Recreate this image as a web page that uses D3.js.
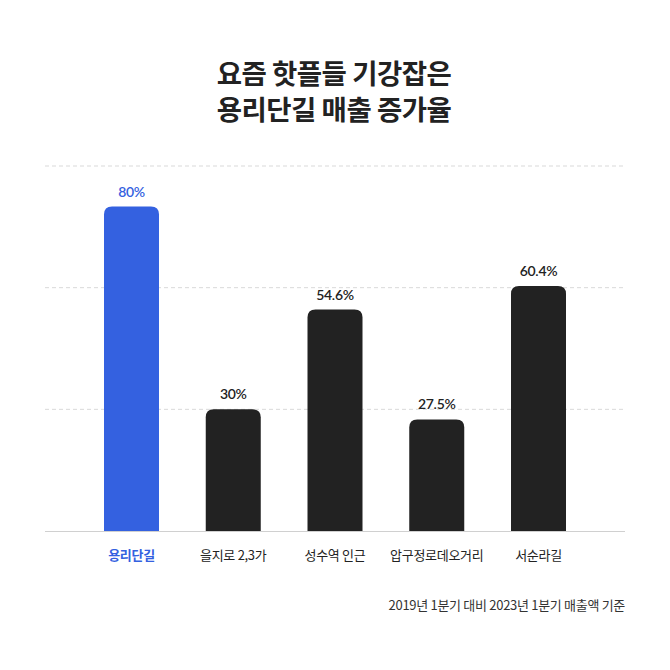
<!DOCTYPE html>
<html><head><meta charset="utf-8">
<script src="https://cdn.jsdelivr.net/npm/d3@7"></script>
<style>html,body{margin:0;padding:0;background:#fff;}</style>
</head><body>
<svg id="c" width="670" height="670"></svg>
<script>
const titleLines = ["요즘 핫플들 기강잡은", "용리단길 매출 증가율"];
const categories = ["용리단길", "을지로 2,3가", "성수역 인근", "압구정로데오거리", "서순라길"];
const values = [80, 30, 54.6, 27.5, 60.4];
const labels = ["80%", "30%", "54.6%", "27.5%", "60.4%"];
const gridTicks = [30, 60, 90];
const highlight = "용리단길";
const footnote = "2019년 1분기 대비 2023년 1분기 매출액 기준";

const svg = d3.select("#c");
const KR = "'Noto Sans CJK KR','Noto Sans',sans-serif";
const NUM = "Lato,'Noto Sans',sans-serif";
const BLUE = "#3461e0", DARK = "#222222";

const x = d3.scalePoint().domain(categories).range([131.5, 538.5]);
const y = d3.scaleLinear().domain([0, 90]).range([531, 166]);
const bw = 55;

// title (one text block, two lines)
svg.append("text")
  .attr("text-anchor","middle")
  .style("font-family", KR).style("font-weight", 700).style("font-size","27.5px")
  .style("letter-spacing","-0.5px")
  .attr("fill", "#222")
  .selectAll("tspan").data(titleLines).join("tspan")
  .attr("x", 334).attr("y", (d,i)=>84 + i*36)
  .text(d=>d);

// grid
svg.append("g").selectAll("line").data(gridTicks).join("line")
  .attr("x1",45).attr("x2",625).attr("y1",d=>y(d)).attr("y2",d=>y(d))
  .attr("stroke","#d9d9d9").attr("stroke-width",1).attr("stroke-dasharray","4,3");

// bars
const r = 8;
svg.append("g").selectAll("path").data(categories).join("path")
  .attr("d",(c,i)=>{
    const x0 = x(c)-bw/2, x1 = x(c)+bw/2, t = y(values[i]), b = y(0);
    return `M${x0},${b}V${t+r}Q${x0},${t} ${x0+r},${t}H${x1-r}Q${x1},${t} ${x1},${t+r}V${b}Z`;
  })
  .attr("fill", c=> c===highlight ? BLUE : DARK);

// baseline
svg.append("line").attr("x1",45).attr("x2",625).attr("y1",y(0)+0.5).attr("y2",y(0)+0.5)
  .attr("stroke","#d0d0d0").attr("stroke-width",1);

// value labels
svg.append("g").selectAll("text").data(categories).join("text")
  .attr("x", c=>x(c)).attr("y",(c,i)=>y(values[i])-10)
  .attr("text-anchor","middle")
  .style("font-family", NUM).style("font-weight",600).style("font-size","14px")
  .style("letter-spacing","-0.3px")
  .attr("fill", c=> c===highlight ? BLUE : DARK)
  .text((c,i)=>labels[i]);

// category labels
svg.append("g").selectAll("text").data(categories).join("text")
  .attr("x", c=>x(c)).attr("y", 560)
  .attr("text-anchor","middle")
  .style("font-family", KR).style("font-size","13px")
  .style("font-weight", c=> c===highlight ? 700 : 400)
  .style("letter-spacing","-0.3px")
  .attr("fill", c=> c===highlight ? BLUE : DARK)
  .text(c=>c);

// footnote
svg.append("text").attr("x",625).attr("y",610).attr("text-anchor","end")
  .style("font-family", KR).style("font-size","13px").style("letter-spacing","-0.3px")
  .attr("fill","#333").text(footnote);
</script>
</body></html>
